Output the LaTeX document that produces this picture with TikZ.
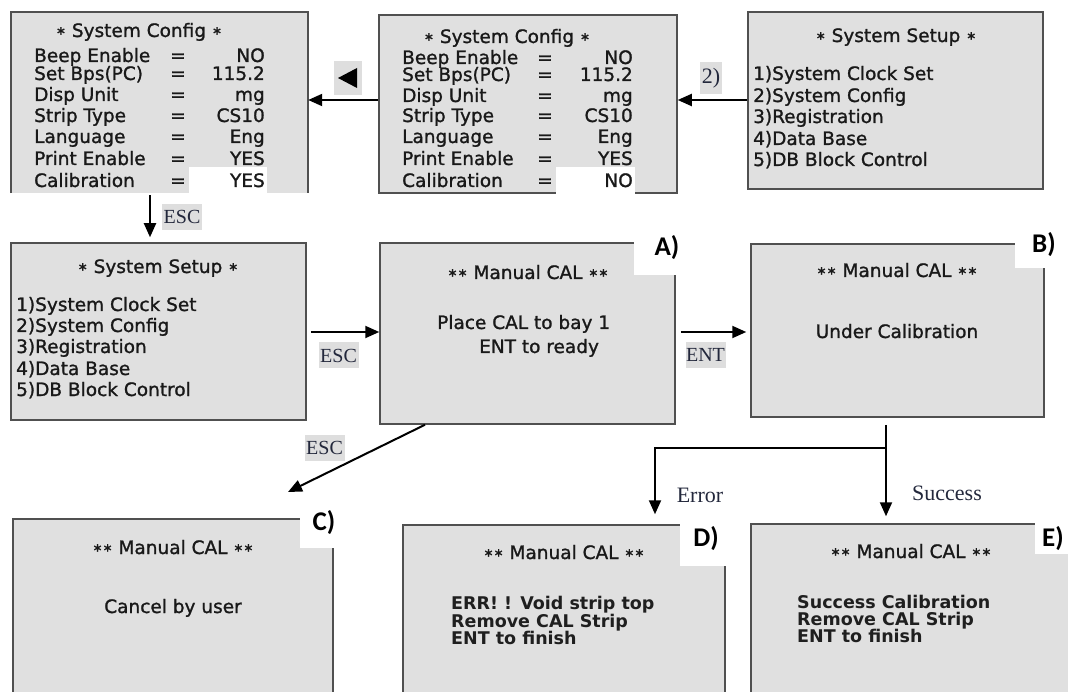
\documentclass[tikz,border=0pt]{standalone}
\usepackage{fontspec}
\usetikzlibrary{arrows.meta}
\newfontfamily\gulf{DejaVu Sans}[RawFeature={embolden=1.2}]
\newfontfamily\gulfb{DejaVu Sans Bold}
\newfontfamily\timesf{Liberation Serif}
\newfontfamily\calibf{Carlito}
\newcommand\st{\raisebox{2.3pt}{\fontsize{12}{12}\selectfont ∗}}
\definecolor{boxfill}{RGB}{224,224,224}
\definecolor{boxline}{RGB}{80,80,80}
\definecolor{lblfill}{RGB}{222,222,222}
\definecolor{lbltext}{RGB}{35,40,60}
\tikzset{
  screen/.style={fill=boxfill, draw=boxline, line width=1.5pt, inner sep=0pt},
  txt/.style={font=\gulf\fontsize{18.5}{18.5}\selectfont, inner sep=0pt, anchor=base west, text=black!90},
  txtc/.style={txt, anchor=base},
  txtr/.style={txt, anchor=base east},
  boldtxt/.style={font=\gulfb\fontsize{17.5}{17}\selectfont, inner sep=0pt, anchor=base west, text=black!88},
  keylbl/.style={fill=lblfill, font=\timesf\fontsize{20}{20}\selectfont, inner sep=0pt, minimum height=26pt, minimum width=40pt, text=lbltext},
  branchlbl/.style={font=\timesf\fontsize{22}{22}\selectfont, text=lbltext, inner sep=0pt, anchor=base},
  letter/.style={font=\calibf\bfseries\fontsize{27}{27}\selectfont, inner sep=0pt},
  arr/.style={line width=2pt, -{Triangle[length=14pt,width=12pt]}}
}
\begin{document}
\begin{tikzpicture}[x=1pt,y=-1pt]
\path[use as bounding box] (0,0) rectangle (1068,692);
\clip (0,0) rectangle (1068,692);

% ---------- screens ----------
\node[fill=boxfill, inner sep=0pt, minimum width=297pt, minimum height=181pt] (tl) at (159.5,102.5) {};
\draw[boxline, line width=1.5pt] (tl.south west) -- (tl.north west) -- (tl.north east) -- (tl.south east);
\node[screen, minimum width=298pt, minimum height=178pt] (tm) at (528,104) {};
\node[screen, minimum width=295pt, minimum height=177pt] (tr) at (895.5,100.5) {};
\node[screen, minimum width=295pt, minimum height=177pt] (ml) at (158.5,331.5) {};
\node[screen, minimum width=295pt, minimum height=181pt] (ma) at (527.5,333.5) {};
\node[screen, minimum width=293pt, minimum height=173pt] (mb) at (897.5,330.5) {};
\node[screen, minimum width=320pt, minimum height=201pt] (c) at (173,619.5) {};
\node[screen, minimum width=322pt, minimum height=195pt] (d) at (564,622.5) {};
\node[screen, minimum width=339pt, minimum height=196pt] (e) at (920.5,622) {};

% white highlights
\fill[white] (189,167) rectangle (267,193);
\fill[white] (556,167) rectangle (635,194);

% ---------- top-left: System Config (YES) ----------
\node[txtc] (tlt) at (139,37) {\st\ System Config \st};
\foreach \lab/\val/\yy/\i in {Beep Enable/NO/62/1, Set Bps(PC)/115.2/80/2, Disp Unit/mg/101/3, Strip Type/CS10/122/4, Language/Eng/143/5, Print Enable/YES/165/6, Calibration/YES/187/7}{
  \node[txt] (tlk\i) at (34,\yy) {\lab};
  \node[txtc] (tle\i) at (178,\yy) {=};
  \node[txtr] (tlv\i) at (265,\yy) {\val};
}

% ---------- top-middle: System Config (NO) ----------
\node[txtc] (tmt) at (507,43) {\st\ System Config \st};
\foreach \lab/\val/\yy/\i in {Beep Enable/NO/64/1, Set Bps(PC)/115.2/81/2, Disp Unit/mg/102/3, Strip Type/CS10/122/4, Language/Eng/143/5, Print Enable/YES/165/6, Calibration/NO/187/7}{
  \node[txt] (tmk\i) at (402,\yy) {\lab};
  \node[txtc] (tme\i) at (545,\yy) {=};
  \node[txtr] (tmv\i) at (633,\yy) {\val};
}

% ---------- top-right: System Setup ----------
\node[txtc] (trt) at (896,42) {\st\ System Setup \st};
\node[txt] (tr1) at (753,80) {1)System Clock Set};
\node[txt] (tr2) at (753,102) {2)System Config};
\node[txt] (tr3) at (753,123) {3)Registration};
\node[txt] (tr4) at (753,145) {4)Data Base};
\node[txt] (tr5) at (753,166) {5)DB Block Control};

% ---------- middle-left: System Setup ----------
\node[txtc] (mlt) at (158,273) {\st\ System Setup \st};
\node[txt] (ml1) at (16,311) {1)System Clock Set};
\node[txt] (ml2) at (16,332) {2)System Config};
\node[txt] (ml3) at (16,353) {3)Registration};
\node[txt] (ml4) at (16,375) {4)Data Base};
\node[txt] (ml5) at (16,396) {5)DB Block Control};

% ---------- A ----------
\node[txtc] (mat) at (528,279) {\st\st\ Manual CAL \st\st};
\node[txt] (ma1) at (437,329) {Place CAL to bay 1};
\node[txt] (ma2) at (479,353) {ENT to ready};

% ---------- B ----------
\node[txtc] (mbt) at (897,277) {\st\st\ Manual CAL \st\st};
\node[txtc] (mb1) at (897,338) {Under Calibration};

% ---------- C ----------
\node[txtc] (ct) at (173,554) {\st\st\ Manual CAL \st\st};
\node[txtc] (c1) at (173,613) {Cancel by user};

% ---------- D ----------
\node[txtc] (dt) at (564,559) {\st\st\ Manual CAL \st\st};
\node[boldtxt] (d1) at (451,609) {ERR! ! Void strip top};
\node[boldtxt] (d2) at (451,627) {Remove CAL Strip};
\node[boldtxt] (d3) at (451,644) {ENT to finish};

% ---------- E ----------
\node[txtc] (et) at (911,558) {\st\st\ Manual CAL \st\st};
\node[boldtxt] (e1) at (797,608) {Success Calibration};
\node[boldtxt] (e2) at (797,625) {Remove CAL Strip};
\node[boldtxt] (e3) at (797,642) {ENT to finish};

% ---------- letter tags ----------
\fill[white] (634,234) rectangle (679,275);
\fill[white] (1015,234) rectangle (1047,268);
\fill[white] (300,510) rectangle (335,548);
\fill[white] (680,516) rectangle (727,566);
\fill[white] (1035,516) rectangle (1068,554);
\node[letter] (la) at (667,248) {A)};
\node[letter] (lb) at (1044,245) {B)};
\node[letter] (lc) at (324,523) {C)};
\node[letter] (ld) at (706,539) {D)};
\node[letter] (le) at (1053,539) {E)};

% ---------- connectors ----------
\coordinate (r1) at (0,100);
\coordinate (x150) at (150,0);
\coordinate (r332) at (0,332);
\coordinate (x425) at (425,0);
\coordinate (cend) at (288,492);
\coordinate (bj) at (886,448);
\coordinate (dcol) at (655,0);

\draw[arr] (tr.west |- r1) -- (tm.east |- r1);
\draw[arr] (tm.west |- r1) -- (tl.east |- r1);
\draw[arr, shorten <=2pt, shorten >=5pt] (tl.south -| x150) -- (ml.north -| x150);
\draw[arr, shorten <=4pt] (ml.east |- r332) -- (ma.west |- r332);
\draw[arr, shorten <=5pt, shorten >=4pt] (ma.east |- r332) -- (mb.west |- r332);
\draw[arr] (ma.south -| x425) -- (cend);
\draw[arr, shorten <=7pt, shorten >=7pt] (mb.south -| bj) -- (e.north -| bj);
\draw[arr, shorten >=10pt] (bj) -- (bj -| dcol) -- (d.north -| dcol);

% ---------- connector labels ----------
\node[fill=lblfill, minimum width=28pt, minimum height=34pt, inner sep=0pt] (larr) at (348,78) {};
\fill[black] ([xshift=-10pt]larr.center) -- ([xshift=9pt,yshift=10pt]larr.center) -- ([xshift=9pt,yshift=-10pt]larr.center) -- cycle;
\node[fill=lblfill, minimum width=22pt, minimum height=32pt, inner sep=0pt, text=lbltext, font=\timesf\fontsize{22}{22}\selectfont] (l2) at (711,78) {2)};
\node[keylbl] (lesc1) at (182,217) {ESC};
\node[keylbl] (lesc2) at (338.5,355.5) {ESC};
\node[keylbl] (lent) at (705.5,355) {ENT};
\node[keylbl] (lesc3) at (324.5,447.5) {ESC};
\node[branchlbl] (lerr) at (700,502) {Error};
\node[branchlbl] (lsuc) at (947,500) {Success};
\end{tikzpicture}
\end{document}
